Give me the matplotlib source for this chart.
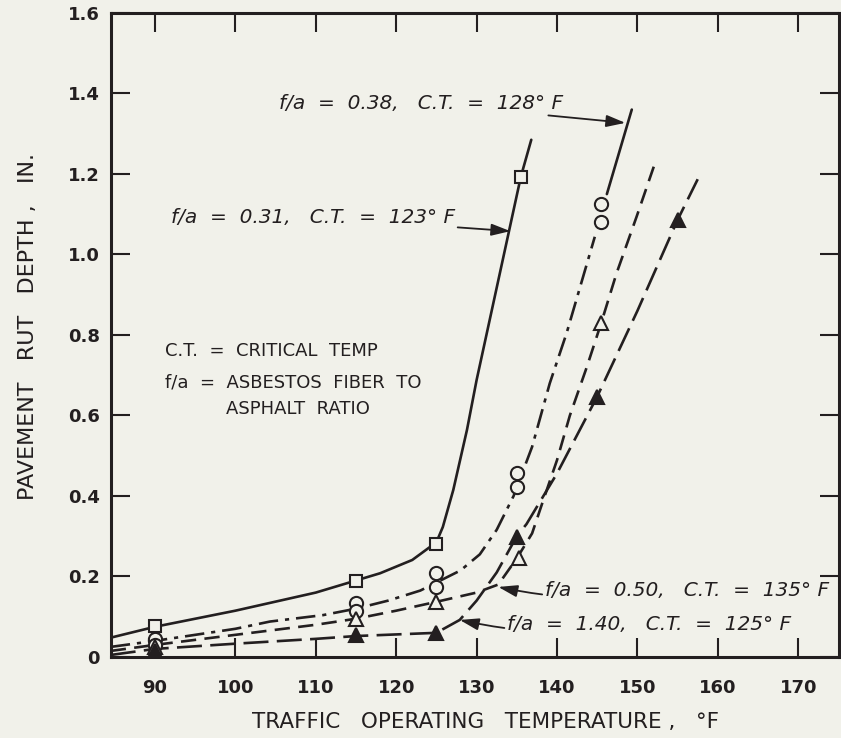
"""Pavement rut depth vs traffic operating temperature."""
import matplotlib
matplotlib.use('Agg')
import matplotlib.pyplot as plt


# Measured points (deg F, rut depth in.)
SQ_T = [90, 115, 125, 135.5]
SQ_Y = [0.077, 0.189, 0.281, 1.193]

CIRC_T = [90, 90, 115, 115, 125, 125, 135, 135, 145.5, 145.5]
CIRC_Y = [0.045, 0.03, 0.134, 0.115, 0.208, 0.175, 0.456, 0.423, 1.125, 1.08]

OTRI_T = [90, 115, 125, 135.3, 145.5]
OTRI_Y = [0.025, 0.095, 0.137, 0.245, 0.829]

FTRI_T = [90, 115, 125, 135, 145, 155]
FTRI_Y = [0.015, 0.055, 0.06, 0.299, 0.647, 1.086]

# Fitted curves
CURVE_A_T = [84.5, 90, 100, 110, 115, 118, 122, 125, 125.8, 127.1, 128.8,
             130, 135.5, 136.8]
CURVE_A_Y = [0.048, 0.075, 0.115, 0.16, 0.19, 0.208, 0.241, 0.285, 0.323,
             0.415, 0.564, 0.688, 1.193, 1.285]

CURVE_B_T = [84.5, 90, 100, 104.3, 110.9, 115, 119, 123, 125, 128, 130.4,
             132.5, 134.6, 136.9, 139.1, 141.2, 144.7]
CURVE_B_Y = [0.025, 0.04, 0.07, 0.088, 0.104, 0.12, 0.14, 0.165, 0.185,
             0.215, 0.255, 0.316, 0.4, 0.522, 0.68, 0.805, 1.044]
CURVE_B_TOP_T = [146.2, 149.3]
CURVE_B_TOP_Y = [1.15, 1.36]

CURVE_C_T = [84.5, 90, 100, 110, 115, 120, 125, 130, 132.7, 135, 136.9,
             138.3, 140, 141.6, 143.7, 145.5, 147.4, 149.9, 152.1]
CURVE_C_Y = [0.015, 0.03, 0.055, 0.08, 0.095, 0.115, 0.137, 0.16, 0.18,
             0.245, 0.307, 0.39, 0.489, 0.6, 0.72, 0.83, 0.953, 1.094, 1.222]

CURVE_D_T = [84.5, 90, 100, 110, 115, 120, 125, 127.9, 130, 132.5, 135,
             136.2, 140, 145, 150, 155, 157.5]
CURVE_D_Y = [0.005, 0.02, 0.033, 0.045, 0.052, 0.056, 0.06, 0.092, 0.14,
             0.21, 0.3, 0.33, 0.456, 0.647, 0.86, 1.086, 1.187]

X_TICKS = [90, 100, 110, 120, 130, 140, 150, 160, 170]
Y_TICKS = [0, 0.2, 0.4, 0.6, 0.8, 1.0, 1.2, 1.4, 1.6]
Y_LABELS = ['0', '0.2', '0.4', '0.6', '0.8', '1.0', '1.2', '1.4', '1.6']

BG = '#f1f1ea'
INK = '#231f20'

plt.rcParams['lines.scale_dashes'] = False

fig = plt.figure(figsize=(8.41, 7.38), dpi=100, facecolor=BG)
ax = fig.add_axes([0.132, 0.1098, 0.8656, 0.8726], facecolor=BG)

lw = 1.9
ax.plot(CURVE_A_T, CURVE_A_Y, color=INK, lw=lw, solid_capstyle='round')
ax.plot(CURVE_B_T, CURVE_B_Y, color=INK, lw=lw, dashes=(14, 5, 3, 5))
ax.plot(CURVE_B_TOP_T, CURVE_B_TOP_Y, color=INK, lw=lw,
        solid_capstyle='round')
ax.plot(CURVE_C_T, CURVE_C_Y, color=INK, lw=lw, dashes=(11, 6))
ax.plot(CURVE_D_T, CURVE_D_Y, color=INK, lw=lw, dashes=(18, 6))

mk = dict(linestyle='none', markeredgecolor=INK, markeredgewidth=1.5)
ax.plot(SQ_T, SQ_Y, marker='s', markersize=9, markerfacecolor=BG, **mk)
ax.plot(CIRC_T, CIRC_Y, marker='o', markersize=9.5, markerfacecolor=BG, **mk)
ax.plot(OTRI_T, OTRI_Y, marker='^', markersize=9.5, markerfacecolor=BG, **mk)
ax.plot(FTRI_T, FTRI_Y, marker='^', markersize=9.5, markerfacecolor=INK, **mk)

ax.set_xlim(84.53, 175.07)
ax.set_ylim(0, 1.6)

ax.set_xticks(X_TICKS)
ax.set_yticks(Y_TICKS, Y_LABELS)
ax.tick_params(direction='in', length=14, width=1.5, color=INK,
               top=True, right=True, labelsize=13, pad=8,
               labelcolor=INK)
ax.tick_params(axis='x', pad=16)
for lab in ax.get_xticklabels() + ax.get_yticklabels():
    lab.set_fontweight('bold')
for sp in ax.spines.values():
    sp.set_linewidth(2.2)
    sp.set_color(INK)

ax.set_xlabel('TRAFFIC   OPERATING   TEMPERATURE ,   °F', fontsize=15.5,
              color=INK)
ax.xaxis.set_label_coords(0.515, -0.085)
ax.set_ylabel('PAVEMENT   RUT   DEPTH ,   IN.', fontsize=16, color=INK)
ax.yaxis.set_label_coords(-0.1, 0.513)

# Notes
note = dict(fontsize=13, color=INK, family='DejaVu Sans')
ax.text(91.2, 0.76, 'C.T.  =  CRITICAL  TEMP', va='center', **note)
ax.text(91.2, 0.683, 'f/a  =  ASBESTOS  FIBER  TO', va='center', **note)
ax.text(98.8, 0.616, 'ASPHALT  RATIO', va='center', **note)

lab = dict(fontsize=14.5, color=INK, family='DejaVu Sans', style='italic')
arr = dict(arrowstyle='-|>,head_length=0.8,head_width=0.25', color=INK,
           lw=1.3, shrinkA=0, shrinkB=0)
ax.annotate('f/a  =  0.38,   C.T.  =  128° F', xy=(148.5, 1.327),
            xytext=(140.8, 1.376), ha='right', va='center',
            arrowprops=dict(connectionstyle='arc3,rad=0.0', **arr), **lab)
ax.annotate('f/a  =  0.31,   C.T.  =  123° F', xy=(134.2, 1.058),
            xytext=(127.3, 1.093), ha='right', va='center',
            arrowprops=dict(connectionstyle='arc3,rad=0.0', **arr), **lab)
ax.annotate('f/a  =  0.50,   C.T.  =  135° F', xy=(132.7, 0.174),
            xytext=(138.5, 0.166), ha='left', va='center',
            arrowprops=dict(connectionstyle='arc3,rad=-0.1', **arr), **lab)
ax.annotate('f/a  =  1.40,   C.T.  =  125° F', xy=(127.9, 0.092),
            xytext=(133.8, 0.0795), ha='left', va='center',
            arrowprops=dict(connectionstyle='arc3,rad=-0.1', **arr), **lab)

fig.savefig('out.png', dpi=100, facecolor=BG)
